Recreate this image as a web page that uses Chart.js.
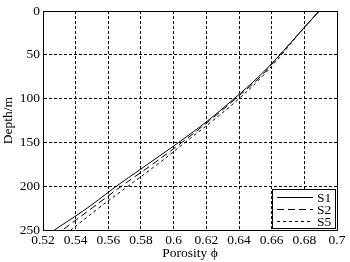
<!DOCTYPE html>
<html>
<head>
  <title>Porosity vs Depth</title>
  <script src="https://cdn.jsdelivr.net/npm/chart.js"></script>
  <style>
    body { margin: 0; background: white; }
    #wrap { width: 350px; height: 262px; }
  </style>
</head>
<body>
  <div id="wrap"><canvas id="chart"></canvas></div>

  <script>
    // values
    const depths = [0, 25, 50, 75, 100, 125, 150, 175, 200, 225, 250];
    const s1 = [0.689, 0.677, 0.665, 0.652, 0.637, 0.621, 0.603, 0.584, 0.565, 0.547, 0.527];
    const s2 = [0.689, 0.677, 0.665, 0.653, 0.638, 0.622, 0.605, 0.587, 0.568, 0.550, 0.532];
    const s5 = [0.689, 0.677, 0.666, 0.654, 0.640, 0.624, 0.607, 0.590, 0.572, 0.554, 0.537];
    const xTicks = [0.52, 0.54, 0.56, 0.58, 0.6, 0.62, 0.64, 0.66, 0.68, 0.7];
    const yTicks = [0, 50, 100, 150, 200, 250];

    const font = "'Liberation Serif', 'DejaVu Serif', serif";

    function toPoints(vals) {
      return vals.map((v, i) => ({ x: v, y: depths[i] }));
    }

    const series = [
      { label: 'S1', data: toPoints(s1), dash: [] },
      { label: 'S2', data: toPoints(s2), dash: [7, 4] },
      { label: 'S5', data: toPoints(s5), dash: [3, 3] }
    ];

    // legend box drawn inside the plot, bottom right
    const boxLegend = {
      id: 'boxLegend',
      afterDraw(chart) {
        const ctx = chart.ctx;
        const area = chart.chartArea;
        const w = 63, h = 39;
        const x0 = Math.round(area.right) - w - 2, y0 = Math.round(area.bottom) - h - 2;
        ctx.save();
        ctx.fillStyle = 'white';
        ctx.fillRect(x0, y0, w, h);
        ctx.strokeStyle = '#000';
        ctx.lineWidth = 1;
        ctx.setLineDash([]);
        ctx.strokeRect(x0 + 0.5, y0 + 0.5, w, h);
        ctx.font = '13.5px ' + font;
        ctx.fillStyle = '#000';
        ctx.textBaseline = 'middle';
        chart.data.datasets.forEach((ds, i) => {
          const yy = y0 + 8.5 + i * 12;
          ctx.beginPath();
          ctx.setLineDash(ds.borderDash || []);
          ctx.moveTo(x0 + 5, yy);
          ctx.lineTo(x0 + 41, yy);
          ctx.stroke();
          ctx.fillText(ds.label, x0 + 45, yy + 1);
        });
        ctx.restore();
      }
    };

    new Chart(document.getElementById('chart').getContext('2d'), {
      type: 'line',
      data: {
        datasets: series.map(s => ({
          label: s.label,
          data: s.data,
          borderColor: '#000',
          borderWidth: 1,
          borderDash: s.dash,
          pointRadius: 0,
          tension: 0.4,
          fill: false
        }))
      },
      options: {
        responsive: true,
        maintainAspectRatio: false,
        animation: false,
        layout: { padding: { top: 8, right: 13, left: 0, bottom: 0 } },
        plugins: {
          legend: { display: false },
          tooltip: { enabled: false }
        },
        scales: {
          x: {
            type: 'linear',
            min: 0.52,
            max: 0.7,
            afterBuildTicks: axis => { axis.ticks = xTicks.map(v => ({ value: v })); },
            afterFit: axis => { axis.height = 32; },
            ticks: {
              color: '#000',
              font: { family: font, size: 13.5 },
              padding: 2,
              maxRotation: 0,
              autoSkip: false,
              callback: v => String(+v.toFixed(2))
            },
            grid: { color: '#000', drawTicks: false, lineWidth: 1 },
            border: { display: true, color: '#000', width: 1, dash: [3, 2] },
            title: {
              display: true,
              text: 'Porosity ϕ',
              color: '#000',
              font: { family: font, size: 13.5 },
              padding: { top: -2, bottom: 0 }
            }
          },
          y: {
            type: 'linear',
            reverse: true,
            min: 0,
            max: 250,
            afterBuildTicks: axis => { axis.ticks = yTicks.map(v => ({ value: v })); },
            afterFit: axis => { axis.width = 43; },
            ticks: {
              color: '#000',
              font: { family: font, size: 13.5 },
              padding: 3
            },
            grid: { color: '#000', drawTicks: false, lineWidth: 1 },
            border: { display: true, color: '#000', width: 1, dash: [3, 2] },
            title: {
              display: true,
              text: 'Depth/m',
              color: '#000',
              font: { family: font, size: 13.5 },
              padding: { top: 0, bottom: 0 }
            }
          }
        }
      },
      plugins: [boxLegend, {
        id: 'frame',
        afterDatasetsDraw(chart) {
          const a = chart.chartArea;
          const ctx = chart.ctx;
          ctx.save();
          ctx.strokeStyle = '#000';
          ctx.lineWidth = 1;
          ctx.setLineDash([]);
          ctx.strokeRect(Math.round(a.left) + 0.5, Math.round(a.top) + 0.5, Math.round(a.width), Math.round(a.height));
          ctx.restore();
        }
      }]
    });
  </script>
</body>
</html>
